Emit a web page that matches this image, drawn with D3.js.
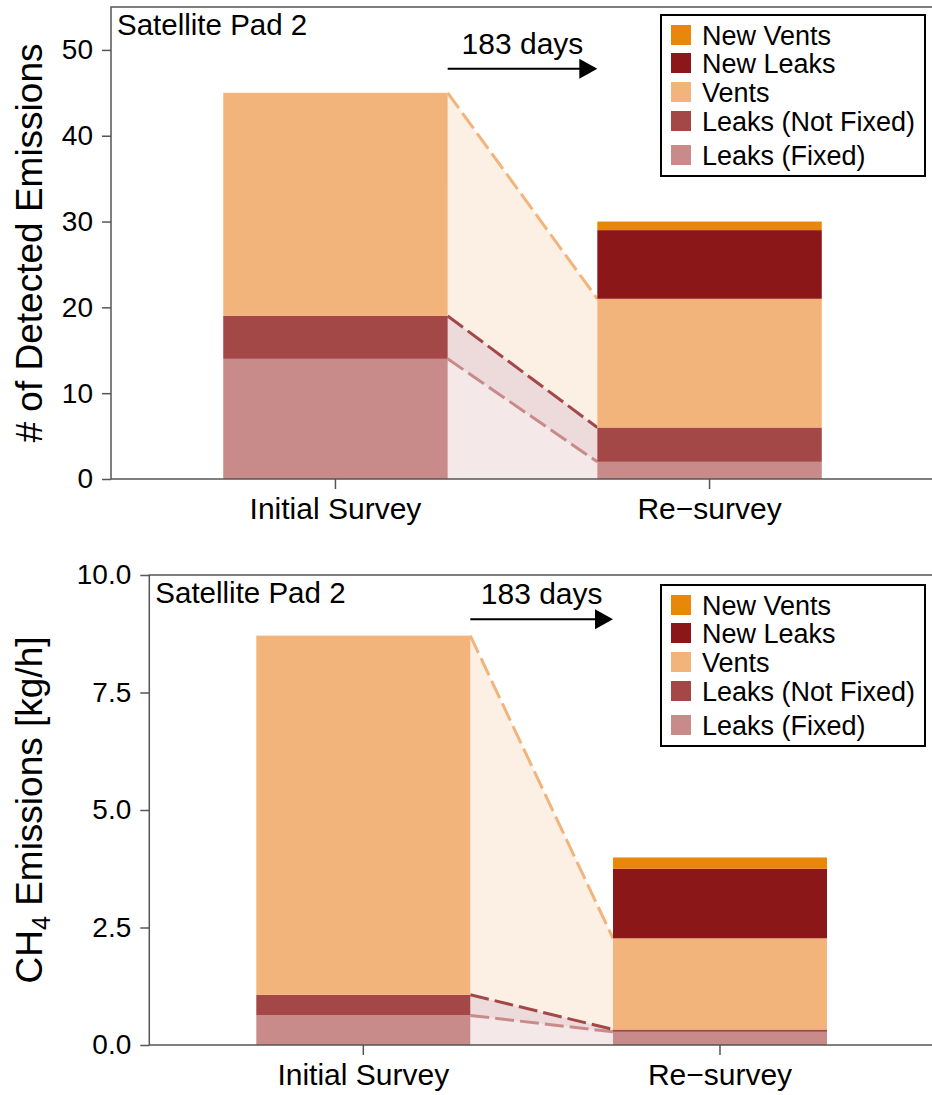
<!DOCTYPE html>
<html lang="en">
<head>
    <meta charset="UTF-8">
    <title>Satellite Pad 2 - emissions</title>
    <script src="https://d3js.org/d3.v7.min.js"></script>
    <style>
        body{ margin:0; background:#fff; }
        svg{ display:block; font-family:"Liberation Sans", Arial, sans-serif; }
    </style>
</head>
<body>
<script>
    // data
    const surveys = ["Initial Survey", "Re\u2212survey"]
    const categories = ["Leaks (Fixed)", "Leaks (Not Fixed)", "Vents", "New Leaks", "New Vents"]
    const colors = ["#c98b8a", "#a34747", "#f2b47b", "#8b1719", "#e8870a"]

    // number of detected emissions, per category
    const countInitial = [14, 5, 26, 0, 0]
    const countResurvey = [2, 4, 15, 8, 1]

    // CH4 emission rate [kg/h], per category
    const rateInitial = [0.63, 0.44, 7.64, 0, 0]
    const rateResurvey = [0.28, 0.05, 1.94, 1.48, 0.24]

    const countTicks = [0, 10, 20, 30, 40, 50]
    const rateTicks = [0, 2.5, 5, 7.5, 10]
    const siteName = "Satellite Pad 2"
    const gapLabel = "183 days"

    const W = 932, H = 1095
    const svg = d3.select("body").append("svg").attr("width", W).attr("height", H)

    // stack each survey's values into [y0,y1] per category
    function stack(vals){
        let acc = 0
        return vals.map(v => { const s = [acc, acc + v]; acc += v; return s })
    }

    function drawPanel(opt){
        const g = svg.append("g")
        const x = d3.scaleBand().domain(surveys)
                    .range([opt.left, opt.right]).paddingInner(0.4).paddingOuter(0.3)
        const y = d3.scaleLinear().domain(opt.domain).range([opt.bottom, opt.top])
        const bw = x.bandwidth()

        const stacks = [stack(opt.initial), stack(opt.resurvey)]
        const x0 = x(surveys[0]) + bw, x1 = x(surveys[1])

        // connecting bands between the two bars (first three categories carry over)
        for(let c = 0; c < 3; c++){
            const a = stacks[0][c], b = stacks[1][c]
            g.append("path")
             .attr("d", `M${x0},${y(a[0])}L${x1},${y(b[0])}L${x1},${y(b[1])}L${x0},${y(a[1])}Z`)
             .attr("fill", colors[c]).attr("fill-opacity", 0.2)
        }
        for(let c = 0; c < 3; c++){
            const a = stacks[0][c], b = stacks[1][c]
            g.append("line")
             .attr("x1", x0).attr("y1", y(a[1])).attr("x2", x1).attr("y2", y(b[1]))
             .attr("stroke", colors[c]).attr("stroke-width", 3)
             .attr("stroke-dasharray", "19,6")
        }

        // stacked bars
        surveys.forEach((s, i) => {
            g.selectAll(null).data(stacks[i]).join("rect")
             .attr("x", x(s)).attr("width", bw)
             .attr("y", d => y(d[1])).attr("height", d => y(d[0]) - y(d[1]))
             .attr("fill", (d, j) => colors[j])
        })

        // frame
        g.append("rect").attr("x", opt.left).attr("y", opt.top)
         .attr("width", opt.right - opt.left).attr("height", opt.bottom - opt.top)
         .attr("fill", "none").attr("stroke", "#555").attr("stroke-width", 1.5)

        // axes
        const yAxis = g.append("g").attr("transform", `translate(${opt.left},0)`)
            .call(d3.axisLeft(y).tickValues(opt.ticks).tickFormat(opt.fmt).tickSize(9).tickPadding(9))
        const xAxis = g.append("g").attr("transform", `translate(0,${opt.bottom})`)
            .call(d3.axisBottom(x).tickSize(10).tickPadding(9))
        ;[yAxis, xAxis].forEach(a => {
            a.select(".domain").remove()
            a.selectAll(".tick line").attr("stroke", "#555").attr("stroke-width", 1.5)
            a.selectAll("text").attr("fill", "#000").attr("font-family", null)
        })
        yAxis.selectAll("text").attr("font-size", 28)
        xAxis.selectAll("text").attr("font-size", 30)

        // y title
        const title = g.append("text")
            .attr("transform", `translate(42,${(opt.top + opt.bottom) / 2}) rotate(-90)`)
            .attr("text-anchor", "middle").attr("font-size", 37)
        opt.title(title)

        // site label
        g.append("text").attr("x", opt.left + 6).attr("y", opt.top + 28)
         .attr("font-size", 29.5).text(siteName)

        // time gap arrow
        const ay = y(opt.arrowAt)
        g.append("line").attr("x1", x0).attr("x2", x1 - 16).attr("y1", ay).attr("y2", ay)
         .attr("stroke", "#000").attr("stroke-width", 2)
        g.append("path").attr("d", `M${x1 - 18},${ay - 10}L${x1},${ay}L${x1 - 18},${ay + 10}Z`)
         .attr("fill", "#000")
        g.append("text").attr("x", (x0 + x1) / 2).attr("y", ay - 15)
         .attr("text-anchor", "middle").attr("font-size", 30).text(gapLabel)

        // legend
        const lx = 661, ly = opt.top + opt.legendOff
        g.append("rect").attr("x", lx).attr("y", ly).attr("width", 264).attr("height", 161)
         .attr("fill", "#fff").attr("stroke", "#000").attr("stroke-width", 2)
        const rowY = [20, 48, 77, 106, 140]
        const order = categories.map((c, i) => i).reverse()
        order.forEach((ci, r) => {
            g.append("rect").attr("x", lx + 10).attr("y", ly + rowY[r] - 10)
             .attr("width", 20).attr("height", 20).attr("fill", colors[ci])
            g.append("text").attr("x", lx + 41).attr("y", ly + rowY[r] + 10)
             .attr("font-size", 27).text(categories[ci])
        })
    }

    drawPanel({
        left:111, right:934, top:7, bottom:479, domain:[0,55],
        initial:countInitial, resurvey:countResurvey,
        ticks:countTicks, fmt:d3.format("d"), arrowAt:47.8, legendOff:8,
        title: t => t.text("# of Detected Emissions")
    })

    drawPanel({
        left:149.3, right:934, top:575, bottom:1045, domain:[0,10],
        initial:rateInitial, resurvey:rateResurvey,
        ticks:rateTicks, fmt:d3.format(".1f"), arrowAt:9.06, legendOff:10,
        title: t => {
            t.append("tspan").text("CH")
            t.append("tspan").attr("font-size", 25).attr("dy", 8).text("4")
            t.append("tspan").attr("dy", -8).text(" Emissions [kg/h]")
        }
    })
</script>
</body>
</html>
